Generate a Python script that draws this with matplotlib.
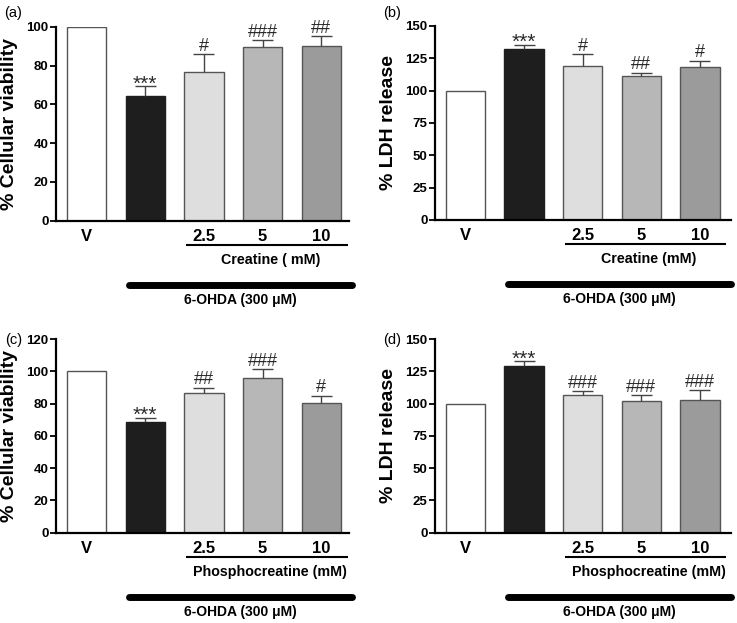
import numpy as np
import matplotlib
matplotlib.use('Agg')
from matplotlib import pyplot as plt
from matplotlib.transforms import blended_transform_factory

plt.rcParams['font.family'] = ['Liberation Sans', 'DejaVu Sans']

# группы
groups = ['V', '', '2.5', '5', '10']
bar_colors = ['#ffffff', '#1e1e1e', '#dedede', '#b7b7b7', '#9b9b9b']

# (a) жизнеспособность, креатин
viab_cr = [100, 64.5, 76.8, 89.3, 90.0]
viab_cr_err = [0, 5.0, 9.0, 3.7, 5.0]
viab_cr_sig = ['', '***', '#', '###', '##']

# (b) LDH, креатин
ldh_cr = [100, 132.5, 119.3, 111.3, 118.0]
ldh_cr_err = [0, 3.1, 8.8, 2.6, 5.2]
ldh_cr_sig = ['', '***', '#', '##', '#']

# (c) жизнеспособность, фосфокреатин
viab_pcr = [100, 68.9, 86.8, 95.7, 80.2]
viab_pcr_err = [0, 2.4, 3.1, 5.5, 4.8]
viab_pcr_sig = ['', '***', '##', '###', '#']

# (d) LDH, фосфокреатин
ldh_pcr = [100, 129.4, 106.5, 102.2, 103.1]
ldh_pcr_err = [0, 3.7, 3.1, 4.2, 7.1]
ldh_pcr_sig = ['', '***', '###', '###', '###']


def draw_panel(ax, vals, errs, sigs, ylabel, yticks, treat_label, xlim):
    x = np.arange(len(vals))
    vals = np.array(vals, dtype=float)
    errs = np.array(errs, dtype=float)
    edges = ['#555555', '#1e1e1e', '#555555', '#555555', '#555555']
    ax.bar(x, vals, width=0.67, color=bar_colors, edgecolor=edges, linewidth=1.0, zorder=2)
    m = errs > 0
    ax.vlines(x[m], vals[m], vals[m] + errs[m], color='#444444', lw=1.0, zorder=3)
    ax.hlines(vals[m] + errs[m], x[m] - 0.18, x[m] + 0.18, color='#444444', lw=1.0, zorder=3)
    for xi, v, e, s in zip(x, vals, errs, sigs):
        if not s:
            continue
        if s.startswith('*'):
            ax.annotate(s, (xi, v + e), xytext=(0, -2.5), textcoords='offset points',
                        ha='center', va='baseline', fontsize=15, color='#2a2a2a')
        else:
            ax.annotate(s, (xi, v + e), xytext=(0, 2.5), textcoords='offset points',
                        ha='center', va='baseline', fontsize=13, color='#2a2a2a')
    ax.set_xlim(*xlim)
    ax.set_ylim(0, yticks[-1])
    ax.set_yticks(yticks)
    ax.set_yticklabels([str(t) for t in yticks], fontsize=9.5, fontweight='bold')
    ax.set_xticks(x)
    ax.set_xticklabels(groups, fontsize=12, fontweight='bold')
    ax.tick_params(axis='x', length=0, pad=6)
    ax.tick_params(axis='y', length=4, width=1.3, pad=1.5)
    for sp in ['top', 'right']:
        ax.spines[sp].set_visible(False)
    for sp in ['left', 'bottom']:
        ax.spines[sp].set_linewidth(1.6)
    ax.set_ylabel(ylabel, fontsize=14, fontweight='bold', labelpad=6)

    tr = blended_transform_factory(ax.transData, ax.transAxes)
    ax.plot([1.69, 4.45], [-0.124, -0.124], transform=tr, color='black', lw=1.5,
            clip_on=False, solid_capstyle='butt')
    ax.text(3.13, -0.201, treat_label, transform=tr, ha='center', va='center',
            fontsize=10.3, fontweight='bold')
    ax.plot([0.72, 4.53], [-0.330, -0.330], transform=tr, color='black', lw=5,
            clip_on=False, solid_capstyle='round')
    ax.text(2.62, -0.408, '6-OHDA (300 μM)', transform=tr, ha='center', va='center',
            fontsize=10, fontweight='bold')


fig = plt.figure(figsize=(7.37, 6.23), dpi=100)
ax_a = fig.add_axes([0.0764, 0.6457, 0.3978, 0.3114])
ax_b = fig.add_axes([0.5906, 0.6469, 0.4012, 0.3114])
ax_c = fig.add_axes([0.0764, 0.1449, 0.3978, 0.3109])
ax_d = fig.add_axes([0.5906, 0.1449, 0.4012, 0.3109])

xl_left = (-0.514, 4.48)
xl_right = (-0.516, 4.53)

draw_panel(ax_a, viab_cr, viab_cr_err, viab_cr_sig, '% Cellular viability',
           [0, 20, 40, 60, 80, 100], 'Creatine ( mM)', xl_left)
draw_panel(ax_b, ldh_cr, ldh_cr_err, ldh_cr_sig, '% LDH release',
           [0, 25, 50, 75, 100, 125, 150], 'Creatine (mM)', xl_right)
draw_panel(ax_c, viab_pcr, viab_pcr_err, viab_pcr_sig, '% Cellular viability',
           [0, 20, 40, 60, 80, 100, 120], 'Phosphocreatine (mM)', xl_left)
draw_panel(ax_d, ldh_pcr, ldh_pcr_err, ldh_pcr_sig, '% LDH release',
           [0, 25, 50, 75, 100, 125, 150], 'Phosphocreatine (mM)', xl_right)

fig.text(13.5 / 737, 1 - 13.5 / 623, '(a)', ha='center', va='center', fontsize=10.5)
fig.text(392.5 / 737, 1 - 13.5 / 623, '(b)', ha='center', va='center', fontsize=10.5)
fig.text(13.5 / 737, 1 - 340 / 623, '(c)', ha='center', va='center', fontsize=10.5)
fig.text(392.5 / 737, 1 - 340 / 623, '(d)', ha='center', va='center', fontsize=10.5)

fig.savefig('out.png', dpi=100)
